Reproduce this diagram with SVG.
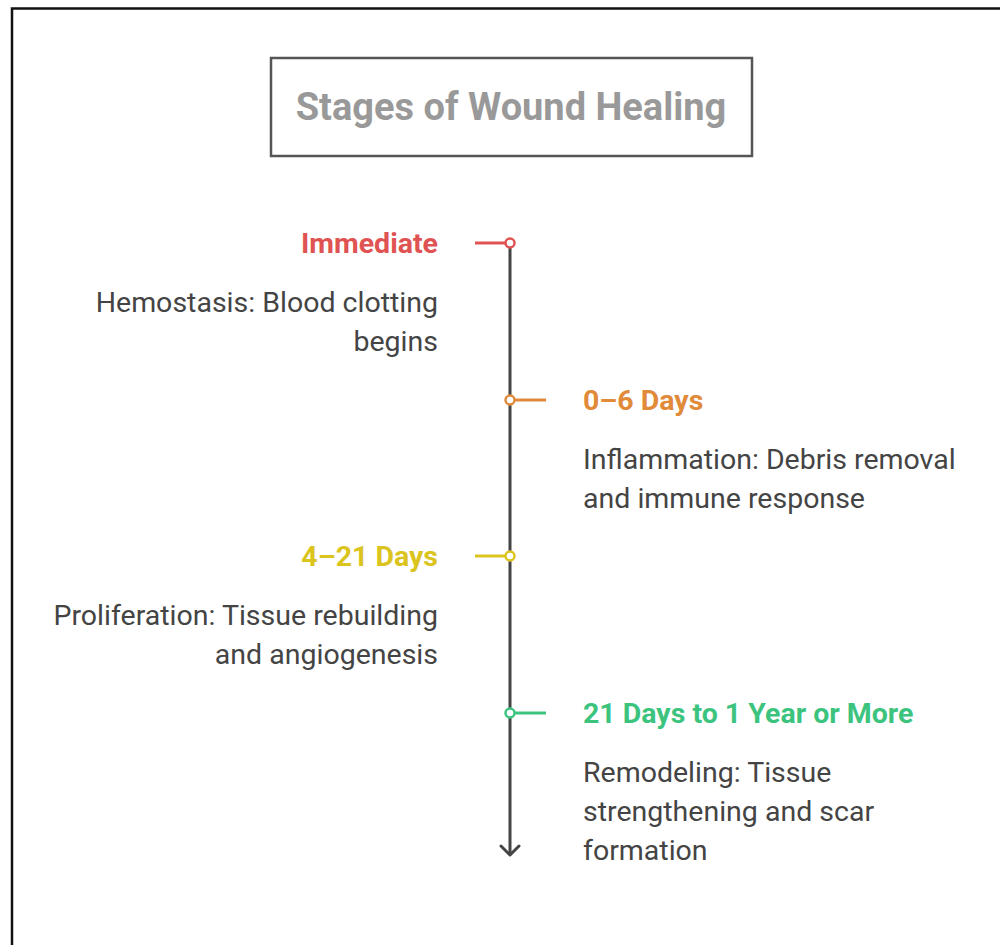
<svg xmlns="http://www.w3.org/2000/svg" width="1000" height="945" viewBox="0 0 1000 945">
<style>
.frame{stroke:#111;stroke-width:2.5;fill:none}
.title{font-family:Roboto,"Liberation Sans",sans-serif;font-weight:bold;font-size:38px;fill:#999999}
.lbl{font-family:Roboto,"Liberation Sans",sans-serif;font-weight:bold;font-size:28.5px}
.desc{font-family:Roboto,"Liberation Sans",sans-serif;font-size:28.5px;fill:#444444}
.r{text-anchor:end}
.dot{fill:#ffffff;stroke-width:2.5}
.tick{stroke-width:3;fill:none}
</style>
<rect width="1000" height="945" fill="#ffffff"/>
<path class="frame" d="M12 945 V8.5 H1000"/>
<g id="title">
<rect x="271" y="58" width="481" height="98" fill="#ffffff" stroke="#555555" stroke-width="2.5"/>
<text class="title" x="511" y="120" text-anchor="middle">Stages of Wound Healing</text>
</g>
<g id="connectors">
<line x1="510" y1="243" x2="510" y2="855" stroke="#444444" stroke-width="3"/>
<path d="M501 846 L510 855 L519 846" fill="none" stroke="#444444" stroke-width="3" stroke-linecap="round" stroke-linejoin="round"/>
</g>
<g id="stage1">
<line class="tick" x1="475" y1="243" x2="505" y2="243" stroke="#e05353"/>
<circle class="dot" cx="510" cy="243" r="4.5" stroke="#e05353"/>
<text class="lbl r" x="438" y="253" fill="#e05353">Immediate</text>
<text class="desc r" x="438" y="312">Hemostasis: Blood clotting</text>
<text class="desc r" x="438" y="351">begins</text>
</g>
<g id="stage2">
<line class="tick" x1="515" y1="400" x2="546" y2="400" stroke="#e08a3a"/>
<circle class="dot" cx="510" cy="400" r="4.5" stroke="#e08a3a"/>
<text class="lbl" x="583" y="410" fill="#e08a3a">0–6 Days</text>
<text class="desc" x="583" y="469">Inflammation: Debris removal</text>
<text class="desc" x="583" y="508">and immune response</text>
</g>
<g id="stage3">
<line class="tick" x1="475" y1="556" x2="505" y2="556" stroke="#dcc41e"/>
<circle class="dot" cx="510" cy="556" r="4.5" stroke="#dcc41e"/>
<text class="lbl r" x="438" y="566" fill="#dcc41e">4–21 Days</text>
<text class="desc r" x="438" y="625">Proliferation: Tissue rebuilding</text>
<text class="desc r" x="438" y="664">and angiogenesis</text>
</g>
<g id="stage4">
<line class="tick" x1="515" y1="713" x2="546" y2="713" stroke="#3cc47f"/>
<circle class="dot" cx="510" cy="713" r="4.5" stroke="#3cc47f"/>
<text class="lbl" x="583" y="723" fill="#3cc47f">21 Days to 1 Year or More</text>
<text class="desc" x="583" y="782">Remodeling: Tissue</text>
<text class="desc" x="583" y="821">strengthening and scar</text>
<text class="desc" x="583" y="860">formation</text>
</g>
</svg>
